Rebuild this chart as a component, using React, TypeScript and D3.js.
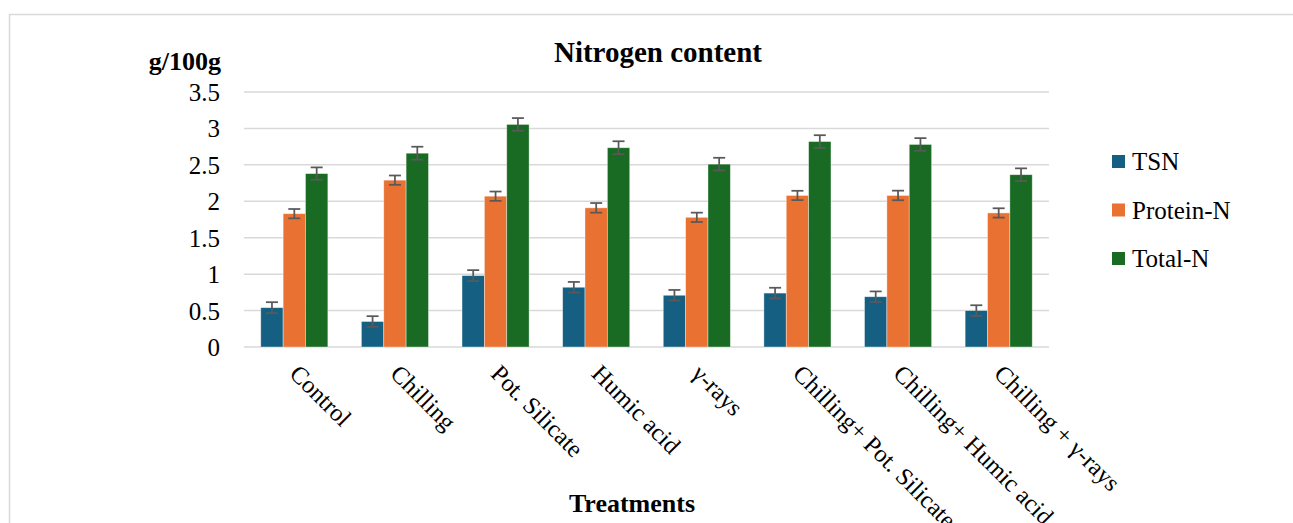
import { useEffect, useRef } from 'react';
import * as d3 from 'd3';

const categories = [
  'Control',
  'Chilling',
  'Pot. Silicate',
  'Humic acid',
  'γ-rays',
  'Chilling+ Pot. Silicate',
  'Chilling+ Humic acid',
  'Chilling + γ-rays',
];

const seriesNames = ['TSN', 'Protein-N', 'Total-N'];

const tsn = [0.54, 0.35, 0.98, 0.82, 0.71, 0.74, 0.69, 0.5];
const proteinN = [1.83, 2.29, 2.07, 1.91, 1.78, 2.08, 2.08, 1.84];
const totalN = [2.38, 2.66, 3.055, 2.735, 2.51, 2.82, 2.78, 2.365];

const tsnErr = [0.075, 0.073, 0.075, 0.073, 0.073, 0.073, 0.073, 0.073];
const proteinErr = [0.064, 0.064, 0.064, 0.066, 0.064, 0.064, 0.066, 0.064];
const totalErr = [0.085, 0.089, 0.087, 0.089, 0.087, 0.087, 0.087, 0.087];

const yTicks = [0, 0.5, 1, 1.5, 2, 2.5, 3, 3.5];

export default function App() {
  const containerRef = useRef<HTMLDivElement>(null);

  useEffect(() => {
    if (!containerRef.current) return;
    d3.select(containerRef.current).selectAll('*').remove();

    const width = 1293;
    const height = 523;
    const font = "'Liberation Serif', 'Times New Roman', serif";
    const colors = ['#156082', '#E97132', '#196B24'];
    const grid = '#D9D9D9';

    const svg = d3
      .select(containerRef.current)
      .append('svg')
      .attr('width', width)
      .attr('height', height)
      .style('position', 'absolute')
      .style('left', '0px')
      .style('top', '0px')
      .style('font-family', font);

    svg.append('rect').attr('width', width).attr('height', height).attr('fill', '#fff');

    // chart frame (runs off the right and bottom edge)
    svg
      .append('rect')
      .attr('x', 9.5)
      .attr('y', 14.5)
      .attr('width', width + 20)
      .attr('height', height + 20)
      .attr('fill', 'none')
      .attr('stroke', grid)
      .attr('stroke-width', 1.5);

    const x0 = d3.scaleBand<string>().domain(categories).range([244, 1049]).padding(0);
    const x1 = d3
      .scaleBand<string>()
      .domain(seriesNames)
      .range([0, x0.bandwidth()])
      .paddingInner(0)
      .paddingOuter(0.75);
    const y = d3.scaleLinear().domain([0, 3.5]).range([347, 92]);

    // gridlines
    svg
      .append('g')
      .selectAll('line')
      .data(yTicks)
      .join('line')
      .attr('x1', 244)
      .attr('x2', 1049)
      .attr('y1', (d) => y(d))
      .attr('y2', (d) => y(d))
      .attr('stroke', grid)
      .attr('stroke-width', 1.5);

    // y tick labels
    svg
      .append('g')
      .selectAll('text')
      .data(yTicks)
      .join('text')
      .attr('x', 220)
      .attr('y', (d) => y(d))
      .attr('dy', '0.36em')
      .attr('text-anchor', 'end')
      .attr('font-size', 25)
      .attr('fill', '#000')
      .text((d) => String(d));

    const series = [
      { name: seriesNames[0], values: tsn, errs: tsnErr, color: colors[0] },
      { name: seriesNames[1], values: proteinN, errs: proteinErr, color: colors[1] },
      { name: seriesNames[2], values: totalN, errs: totalErr, color: colors[2] },
    ];

    series.forEach((s) => {
      const g = svg.append('g');
      g.selectAll('rect')
        .data(s.values)
        .join('rect')
        .attr('x', (_, i) => (x0(categories[i]) ?? 0) + (x1(s.name) ?? 0))
        .attr('y', (d) => y(d))
        .attr('width', x1.bandwidth())
        .attr('height', (d) => y(0) - y(d))
        .attr('fill', s.color)
        .attr('stroke', '#ffffff')
        .attr('stroke-opacity', 0.5)
        .attr('stroke-width', 0.75);

      // error bars
      s.values.forEach((v, i) => {
        const cx = (x0(categories[i]) ?? 0) + (x1(s.name) ?? 0) + x1.bandwidth() / 2;
        const lo = y(v - s.errs[i]);
        const hi = y(v + s.errs[i]);
        const eg = g.append('g').attr('stroke', '#595959').attr('stroke-width', 1.75);
        eg.append('line').attr('x1', cx).attr('x2', cx).attr('y1', lo).attr('y2', hi);
        eg.append('line').attr('x1', cx - 6).attr('x2', cx + 6).attr('y1', lo).attr('y2', lo);
        eg.append('line').attr('x1', cx - 6).attr('x2', cx + 6).attr('y1', hi).attr('y2', hi);
      });
    });

    // x labels, rotated 45deg
    svg
      .append('g')
      .selectAll('text')
      .data(categories)
      .join('text')
      .attr('transform', (d) => `translate(${(x0(d) ?? 0) + x0.bandwidth() / 2 + 7},${362}) rotate(45)`)
      .attr('dy', '0.75em')
      .attr('font-size', 24.5)
      .attr('fill', '#000')
      .text((d) => d);

    // titles
    svg
      .append('text')
      .attr('x', 658)
      .attr('y', 62)
      .attr('text-anchor', 'middle')
      .attr('font-size', 29)
      .attr('font-weight', 'bold')
      .text('Nitrogen content');

    svg
      .append('text')
      .attr('x', 221)
      .attr('y', 70)
      .attr('text-anchor', 'end')
      .attr('font-size', 26)
      .attr('font-weight', 'bold')
      .text('g/100g');

    svg
      .append('text')
      .attr('x', 632)
      .attr('y', 512)
      .attr('text-anchor', 'middle')
      .attr('font-size', 26)
      .attr('font-weight', 'bold')
      .text('Treatments');

    // legend
    const legend = svg.append('g').attr('transform', 'translate(1112, 155)');
    series.forEach((s, idx) => {
      const lg = legend.append('g').attr('transform', `translate(0, ${idx * 48.5})`);
      lg.append('rect').attr('width', 13).attr('height', 13).attr('fill', s.color);
      lg.append('text')
        .attr('x', 20)
        .attr('y', 15)
        .attr('font-size', 25)
        .attr('fill', '#000')
        .text(s.name);
    });
  }, []);

  return <div ref={containerRef} style={{ width: 1293, height: 523 }}></div>;
}
